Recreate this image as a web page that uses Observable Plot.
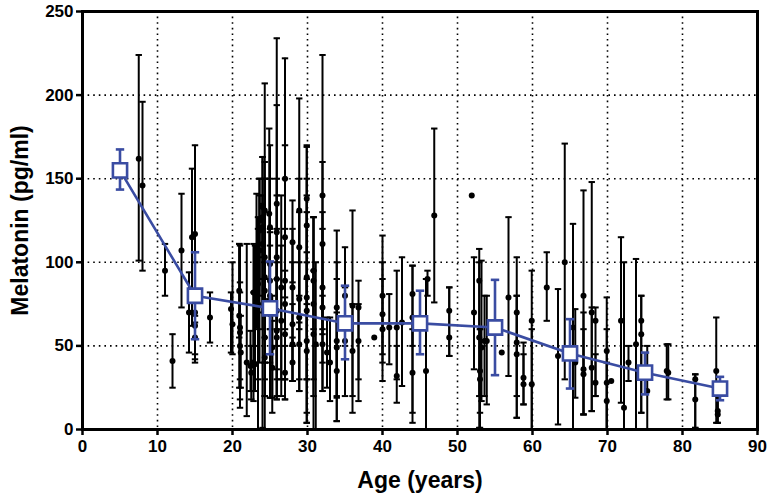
<!DOCTYPE html>
<html>
<head>
<meta charset="utf-8">
<script src="https://cdn.jsdelivr.net/npm/d3@7"></script>
<script src="https://cdn.jsdelivr.net/npm/@observablehq/plot@0.6"></script>
<style>
  html, body { margin: 0; padding: 0; background: #fff; }
  #chart svg { font-family: "Liberation Sans", Arial, sans-serif; }
</style>
</head>
<body>
<div id="chart"></div>
<script>
// Individual subjects: age, mean melatonin, error-bar low, error-bar high (null = no bar)
const pointAge = [
  7.5, 8.0, 11.0, 12.0, 13.2, 14.2, 14.6, 15.0, 15.0, 15.0, 15.0, 17.0,
  19.8, 20.0, 20.9, 20.9, 21.0, 21.0, 21.0, 21.1, 21.9, 22.4, 22.5, 22.8, 22.8, 23.0,
  23.2, 23.4, 23.4, 23.6, 23.6, 23.6, 24.0, 24.0, 24.0, 24.0,
  24.3, 24.3, 24.3, 24.3, 24.3, 24.3, 24.3,
  24.9, 25.0, 25.0, 25.0, 25.0, 25.0, 25.3, 25.3,
  25.9, 25.9, 25.9, 25.9, 25.9, 25.9, 25.9, 26.5, 26.5,
  27.0, 27.0, 27.0, 27.0, 27.0, 27.0,
  28.0, 28.0, 28.0, 28.0, 28.0,
  28.9, 28.9, 28.9, 28.9, 28.9,
  29.9, 29.9, 29.9, 29.9, 29.9, 29.9, 29.9,
  30.8, 30.8, 30.8, 30.8, 31.1,
  32.0, 32.0, 32.0, 32.0, 32.0, 32.6, 33.0,
  33.9, 33.9, 33.9, 33.9, 35.0, 35.0, 36.0, 36.0, 36.8, 36.8, 38.9,
  40.0, 40.0, 40.0, 40.9, 41.9, 41.9, 42.6, 44.0, 44.0, 44.0,
  45.8, 46.0, 46.9, 48.9, 48.9, 51.9,
  52.2, 52.9, 52.9, 53.0, 53.0, 53.2, 53.6, 53.9, 55.9,
  56.8, 57.9, 57.9, 57.9, 58.8, 58.8, 59.9, 59.9,
  61.9, 63.4, 64.3, 65.4, 65.7, 66.8, 66.8, 66.8, 67.9, 67.9, 68.4, 68.4,
  69.9, 69.9, 69.9, 70.5, 71.8, 72.2, 72.8, 73.8, 74.5, 74.5, 75.3,
  77.9, 78.1, 81.7, 81.7, 84.5, 84.7, 84.7
];
const pointMean = [
  162, 146, 95, 41, 107, 70, 115, 117, 70, 62, 55, 67,
  72, 63, 83, 68, 61, 58, 50, 46, 40, 38, 34, 40, 82, 39,
  101, 87, 75, 125, 119, 107, 133, 127, 121, 111,
  131, 103, 91, 83, 71, 55, 43,
  129, 121, 99, 89, 80, 69, 49, 37,
  135, 118, 103, 90, 71, 59, 55, 85, 65,
  150, 115, 89, 75, 57, 34,
  112, 85, 63, 51, 40,
  131, 109, 78, 67, 51,
  138, 122, 91, 79, 71, 53, 47,
  95, 89, 75, 57, 51,
  140, 111, 85, 73, 51, 46, 40,
  73, 53, 49, 35, 80, 53, 74, 47, 73, 53, 55,
  80, 69, 60, 61, 61, 32, 64, 81, 67, 34,
  35, 90, 128, 71, 55, 140,
  70, 89, 55, 35, 30, 49, 53, 53, 46,
  79, 70, 52, 45, 31, 27, 65, 27,
  85, 44, 100, 61, 40, 80, 36, 33, 70, 37, 65, 28,
  47, 28, 17, 29, 65, 13, 40, 51, 65, 57, 23,
  35, 34, 30, 18, 35, 11, 9
];
const pointLow = [
  101, 95, 80, 25, 73, 46, 62, 64, 40, 45, 42, 52,
  46, 45, 55, 25, 13, 30, 18, 25, 8, 23, 18, 17, 50, 23,
  60, 30, 0, 80, 90, 40, 103, 70, 1, 60,
  55, 40, 30, 0, 40, 20, 20,
  78, 60, 19, 60, 40, 19, 19, 10,
  36, 60, 50, 30, 18, 20, 18, 30, 20,
  79, 60, 30, 30, 18, 18,
  88, 50, 29, 29, 29,
  64, 60, 23, 30, 23,
  106, 75, 30, 30, 4, 10, 4,
  60, 30, 0, 20, 0,
  57, 60, 40, 23, 23, 25, 17,
  19, 20, 5, 5, 50, 20, 10, 20, 17, 30, null,
  45, 40, 29, 39, 30, 16, 26, 50, 4, 10,
  0, 80, 76, 44, 44, null,
  36, 1, 20, 10, 1, 17, 20, 15, null,
  32, 7, 20, 7, 15, 15, 0, 0,
  65, 3, 30, 0, 19, 9, 9, 9, 11, 11, 20, 20,
  0, 0, 0, null, 16, 0, 29, 0, 10, 10, 0,
  18, 18, 1, 1, 4, 4, 4
];
const pointHigh = [
  224, 196, 111, 57, 141, 94, 156, 170, 100, 80, 68, 82,
  82, 100, 111, 111, 110, 88, 82, 68, 111, 59, 50, 82, 111, 110,
  141, 127, 120, 150, 140, 150, 163, 163, 140, 135,
  207, 160, 150, 150, 100, 90, 70,
  180, 170, 150, 118, 120, 110, 80, 65,
  234, 194, 150, 140, 120, 100, 90, 140, 110,
  222, 170, 150, 120, 95, 50,
  137, 120, 100, 75, 55,
  198, 150, 130, 100, 80,
  170, 169, 150, 130, 140, 100, 90,
  127, 127, 127, 95, 100,
  224, 160, 130, 120, 80, 67, 67,
  119, 90, 100, 70, 109, 85, 131, 75, 89, 75, null,
  116, 100, 90, 81, 95, 50, 103, 98, 98, 60,
  90, 95, 180, 85, 85, null,
  103, 108, 100, 60, 60, 101, 80, 80, null,
  127, 103, 80, 80, 52, 45, 95, 60,
  106, 84, 171, 123, 72, 143, 70, 60, 148, 73, 73, 45,
  79, 60, 40, null, 115, 100, 50, 102, 80, 80, 50,
  51, 51, 33, 33, 67, 20, 20
];

// Decade means (blue)
const groupAge = [5, 15, 25, 35, 45, 55, 65, 75, 85];
const groupMean = [155, 80, 72.5, 63.5, 63.5, 61, 45.5, 34, 24.5];
const groupLow = [143.5, 54, 45, 42, 45, 32.5, 24.5, 21, 17.5];
const groupHigh = [167.5, 106, 100.5, 86, 83, 89.5, 66, 46, 31.5];

const xTicks = [0, 10, 20, 30, 40, 50, 60, 70, 80, 90];
const yTicks = [0, 50, 100, 150, 200, 250];
const xGridLines = [10, 20, 30, 40, 50, 60, 70, 80];
const yGridLines = [50, 100, 150, 200];

const points = pointAge.map((a, i) => ({age: a, mean: pointMean[i], low: pointLow[i], high: pointHigh[i]}));
const bars = points.filter(d => d.low != null && d.high != null);
const groups = groupAge.map((a, i) => ({age: a, mean: groupMean[i], low: groupLow[i], high: groupHigh[i]}));

const blue = "#3a4ca2";
const cap = {
  draw(context, size) {
    const r = Math.sqrt(size / Math.PI);
    context.moveTo(-r, 0);
    context.lineTo(r, 0);
  }
};

const chart = Plot.plot({
  width: 768,
  height: 500,
  marginLeft: 82,
  marginRight: 11,
  marginTop: 11,
  marginBottom: 71,
  x: {domain: [0, 90]},
  y: {domain: [0, 250]},
  style: {fontFamily: "Liberation Sans, Arial, sans-serif", background: "white", color: "black"},
  marks: [
    Plot.gridX(xGridLines, {stroke: "black", strokeOpacity: 1, strokeWidth: 1.6, strokeDasharray: "1.6,4"}),
    Plot.gridY(yGridLines, {stroke: "black", strokeOpacity: 1, strokeWidth: 1.6, strokeDasharray: "1.6,4"}),
    Plot.ruleX(bars, {x: "age", y1: "low", y2: "high", stroke: "black", strokeWidth: 2}),
    Plot.dot(bars, {x: "age", y: "high", symbol: cap, r: 3.2, stroke: "black", strokeWidth: 2, fill: "none"}),
    Plot.dot(bars, {x: "age", y: "low", symbol: cap, r: 3.2, stroke: "black", strokeWidth: 2, fill: "none"}),
    Plot.dot(points, {x: "age", y: "mean", r: 3, fill: "black", stroke: "none"}),
    Plot.line(groups, {x: "age", y: "mean", stroke: blue, strokeWidth: 2.6}),
    Plot.ruleX(groups, {x: "age", y1: "low", y2: "high", stroke: blue, strokeWidth: 2.6}),
    Plot.dot(groups, {x: "age", y: "high", symbol: cap, r: 4.2, stroke: blue, strokeWidth: 2.6, fill: "none"}),
    Plot.dot(groups, {x: "age", y: "low", symbol: cap, r: 4.2, stroke: blue, strokeWidth: 2.6, fill: "none"}),
    Plot.dot(groups, {x: "age", y: "mean", symbol: "square", r: 8, fill: "white", stroke: blue, strokeWidth: 2.6}),
    Plot.frame({stroke: "black", strokeWidth: 3}),
    Plot.axisX({ticks: xTicks, tickSize: 6, tickPadding: 4, strokeWidth: 2.5, fontSize: 17, fontWeight: "bold", label: null}),
    Plot.axisY({ticks: yTicks, tickSize: 6, tickPadding: 3, strokeWidth: 2.5, fontSize: 17, fontWeight: "bold", label: null}),
    Plot.text(["Age (years)"], {frameAnchor: "bottom", dy: 58, fontSize: 23, fontWeight: "bold", fill: "black"}),
    Plot.text(["Melatonin (pg/ml)"], {frameAnchor: "left", textAnchor: "middle", dx: -62, rotate: -90, fontSize: 23, fontWeight: "bold", fill: "black"})
  ]
});
document.getElementById("chart").appendChild(chart);
</script>
</body>
</html>
